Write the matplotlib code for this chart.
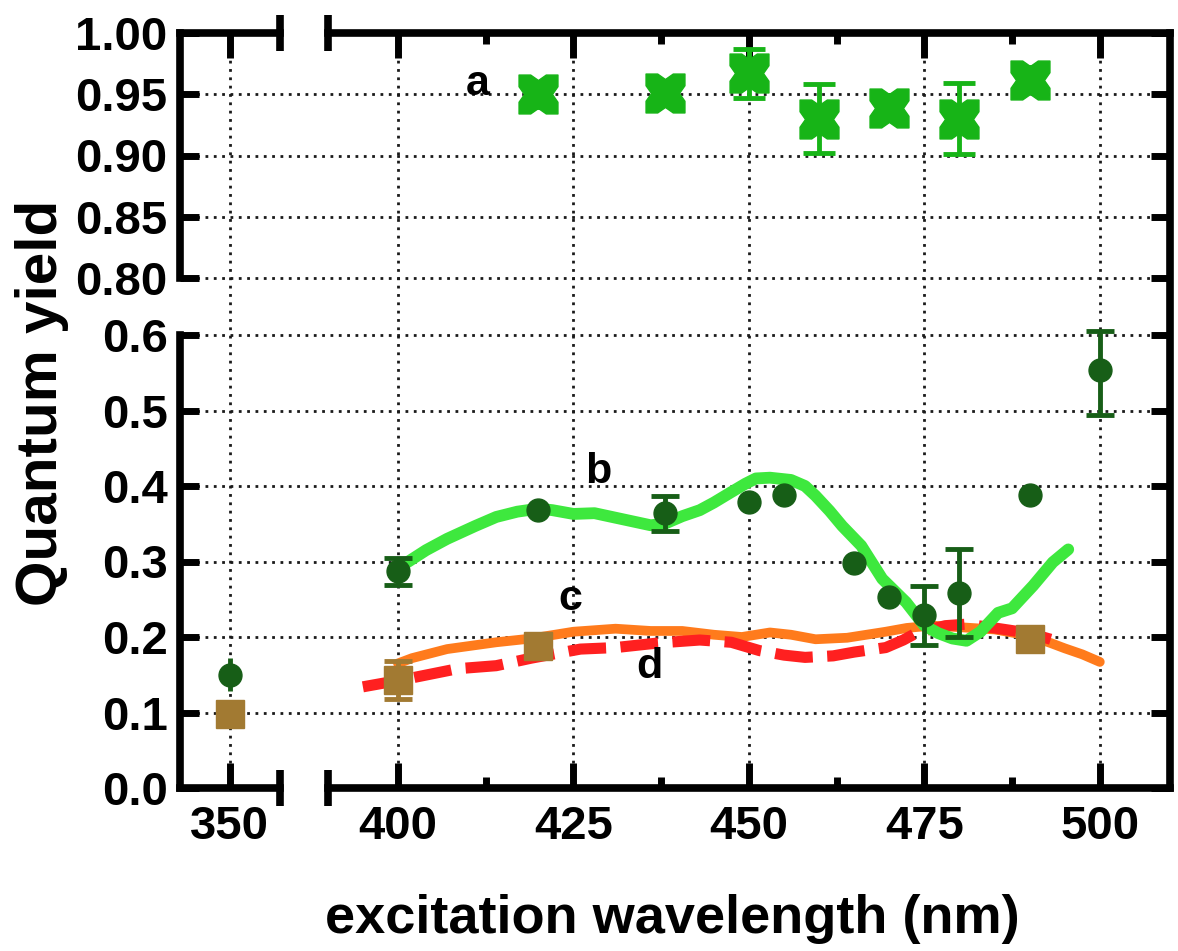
import numpy as np
import matplotlib
matplotlib.use('Agg')
import matplotlib.pyplot as plt
from matplotlib.path import Path

# series a: quantum yield near unity (top segment)
a_x = [420, 438, 450, 460, 470, 480, 490]
a_y = [0.950, 0.951, 0.967, 0.930, 0.939, 0.930, 0.962]
a_err = [0.01, 0.01, 0.02, 0.028, 0.01, 0.029, 0.01]

# series b: measured points and spectrum
b_x = [350, 400, 420, 438, 450, 455, 465, 470, 475, 480, 490, 500]
b_y = [0.150, 0.287, 0.368, 0.364, 0.379, 0.388, 0.298, 0.253, 0.229, 0.258, 0.388, 0.554]
b_err = [0.022, 0.018, 0, 0.023, 0, 0, 0, 0, 0.039, 0.058, 0, 0.06]

b_line_x = [400, 401.5, 404, 407, 411, 414, 417, 420, 422, 425,
            428, 430, 433, 436, 438, 440.5, 443, 445, 447.5, 449.5,
            451, 453, 456, 458, 459.5, 461.5, 463.3, 466, 469, 472.4,
            475, 477, 479, 481, 483, 485.5, 487.5, 490.5, 493.3, 495.5]
b_line_y = [0.292, 0.300, 0.315, 0.330, 0.347, 0.359, 0.366, 0.370, 0.368, 0.363,
            0.364, 0.360, 0.354, 0.348, 0.350, 0.360, 0.368, 0.378, 0.392, 0.403,
            0.410, 0.411, 0.408, 0.400, 0.387, 0.367, 0.347, 0.321, 0.277, 0.246,
            0.215, 0.205, 0.198, 0.195, 0.207, 0.232, 0.238, 0.268, 0.299, 0.316]

# series c (solid) and d (dashed) spectra
c_x = [400, 402, 407, 414, 419, 425, 431, 436, 440.5, 445,
       449, 453, 456, 459.5, 464, 469.5, 472.5, 476, 480, 485,
       488, 490.5, 493, 495, 497.5, 500]
c_y = [0.165, 0.172, 0.184, 0.193, 0.198, 0.207, 0.211, 0.208, 0.208, 0.203,
       0.200, 0.206, 0.203, 0.197, 0.199, 0.207, 0.212, 0.215, 0.213, 0.210,
       0.205, 0.200, 0.192, 0.185, 0.177, 0.167]
d_x = [395, 401, 408.5, 414, 419, 426, 431, 437, 443, 447.5,
       451.5, 455, 458, 462, 465, 469.5, 472, 474, 478, 481,
       485, 490, 493]
d_y = [0.134, 0.144, 0.158, 0.162, 0.172, 0.184, 0.186, 0.192, 0.196, 0.193,
       0.182, 0.176, 0.173, 0.175, 0.180, 0.186, 0.196, 0.206, 0.215, 0.217,
       0.212, 0.205, 0.197]

# square markers (c/d measured points)
sq_x = [350, 400, 420, 490]
sq_y = [0.098, 0.143, 0.188, 0.197]
sq_err = [0, 0.025, 0, 0]

x_ticks = [350, 400, 425, 450, 475, 500]
x_minor = [412.5, 437.5, 462.5, 487.5]
y_ticks = [0.0, 0.1, 0.2, 0.3, 0.4, 0.5, 0.6, 0.80, 0.85, 0.90, 0.95, 1.00]
y_labels = ['0.0', '0.1', '0.2', '0.3', '0.4', '0.5', '0.6',
            '0.80', '0.85', '0.90', '0.95', '1.00']

# broken axes: data breakpoints -> screen length (px)
X_BRK = [342.9, 357.2, 390.0, 510.0]
X_PIX = [0.0, 100.4, 147.8, 990.0]
Y_BRK = [0.0, 0.6, 0.8, 1.0]
Y_PIX = [0.0, 453.0, 510.0, 755.0]


def piecewise(src, dst):
    src = np.asarray(src, float)
    dst = np.asarray(dst, float)

    def make(a, b):
        k0 = (b[1] - b[0]) / (a[1] - a[0])
        k1 = (b[-1] - b[-2]) / (a[-1] - a[-2])

        def f(v):
            v = np.asarray(v, float)
            out = np.interp(v, a, b)
            out = np.where(v < a[0], b[0] + (v - a[0]) * k0, out)
            out = np.where(v > a[-1], b[-1] + (v - a[-1]) * k1, out)
            return out
        return f
    return make(src, dst), make(dst, src)


plt.rcParams['font.family'] = ['Liberation Sans', 'DejaVu Sans']
plt.rcParams['font.weight'] = 'bold'

fig = plt.figure(figsize=(11.78, 9.51), dpi=100)
ax = fig.add_axes([180 / 1178, 163 / 951, 990 / 1178, 755 / 951])
ax.set_xscale('function', functions=piecewise(X_BRK, X_PIX))
ax.set_yscale('function', functions=piecewise(Y_BRK, Y_PIX))
ax.set_xlim(X_BRK[0], X_BRK[-1])
ax.set_ylim(0, 1.0)

# dotted grid
G = dict(color='#1a1a1a', lw=2, linestyle=(0, (1, 2)), zorder=0.5)
for y in y_ticks[1:-1]:
    ax.axhline(y, **G)
for x in x_ticks:
    ax.axvline(x, **G)

# frame with breaks
for s in ax.spines.values():
    s.set_visible(False)
K = dict(color='black', lw=5.5, solid_capstyle='projecting', clip_on=False, zorder=5)
yt = ax.get_yaxis_transform()
xt = ax.get_xaxis_transform()
ax.plot([0, 0], [0, 0.6], transform=yt, **K)
ax.plot([0, 0], [0.8, 1.0], transform=yt, **K)
ax.plot([1, 1], [0, 1], transform=ax.transAxes, **K)
for yy in (0, 1):
    ax.plot([X_BRK[0], X_BRK[1]], [yy, yy], transform=xt, **K)
    ax.plot([X_BRK[2], X_BRK[3]], [yy, yy], transform=xt, **K)
    for xb in (X_BRK[1], X_BRK[2]):
        ax.plot([xb, xb], [yy - 0.024, yy + 0.024], transform=xt,
                **dict(K, solid_capstyle='butt'))

# ticks
ax.set_xticks(x_ticks)
ax.set_xticks(x_minor, minor=True)
ax.set_yticks(y_ticks)
ax.set_yticklabels(y_labels)
ax.yaxis.set_minor_locator(matplotlib.ticker.NullLocator())
ax.tick_params(which='both', direction='in', top=True, right=True, width=5,
               labelsize=34)
ax.tick_params(axis='x', which='major', length=18, pad=12)
ax.tick_params(axis='x', which='minor', length=8)
ax.tick_params(axis='y', which='major', length=14, pad=9)

# spectra
ax.plot(c_x, c_y, color='#ff7b1c', lw=7, solid_capstyle='round', zorder=2)
ax.plot(d_x, d_y, color='#ff2020', lw=8, dashes=(3.4, 1.3), zorder=3)
ax.plot(b_line_x, b_line_y, color='#3ee83e', lw=8.5, solid_capstyle='round', zorder=4)

# series a with bowtie markers
bowtie = Path([(-1, -1), (-0.4, -1), (0, -0.72), (0.4, -1), (1, -1), (1, -0.4),
               (0.72, 0), (1, 0.4), (1, 1), (0.4, 1), (0, 0.72), (-0.4, 1),
               (-1, 1), (-1, 0.4), (-0.72, 0), (-1, -0.4), (-1, -1)], closed=True)
green = '#17b417'
ax.errorbar(a_x, a_y, yerr=a_err, fmt='none', ecolor=green, elinewidth=3.5,
            capsize=11.5, capthick=3.5, zorder=6)
ax.plot(a_x, a_y, ls='none', marker=bowtie, ms=28, color=green, zorder=7)

# series b points; the 350 nm bar has no visible cap
dark = '#175e17'
bx, by, be = np.array(b_x), np.array(b_y), np.array(b_err)
m = (be > 0) & (bx > 360)
ax.errorbar(bx[m], by[m], yerr=be[m], fmt='none', ecolor=dark, elinewidth=3.5,
            capsize=10, capthick=3.5, zorder=6)
m = (be > 0) & (bx < 360)
ax.errorbar(bx[m], by[m], yerr=be[m], fmt='none', ecolor=dark, elinewidth=3.5,
            capsize=0, zorder=6)
ax.plot(b_x, b_y, ls='none', marker='o', ms=16.5, color=dark, zorder=7)

# squares
brown = '#a27a32'
sx, sy, se = np.array(sq_x), np.array(sq_y), np.array(sq_err)
m = se > 0
ax.errorbar(sx[m], sy[m], yerr=se[m], fmt='none', ecolor=brown, elinewidth=3.5,
            capsize=10, capthick=3.5, zorder=6)
ax.plot(sq_x, sq_y, ls='none', marker='s', ms=20, color=brown, zorder=8)

# curve letters
T = dict(ha='center', va='baseline', fontsize=31, fontweight='bold', zorder=8)
ax.text(411.4, 0.949, 'a', **T)
ax.text(428.6, 0.404, 'b', **T)
ax.text(424.6, 0.236, 'c', **T)
ax.text(435.8, 0.146, 'd', **T)

ax.set_xlabel('excitation wavelength (nm)', fontsize=39, fontweight='bold')
ax.xaxis.set_label_coords(0.497, -0.192)
ax.xaxis.label.set_va('baseline')
ax.set_ylabel('Quantum yield', fontsize=42, fontweight='bold')
ax.yaxis.set_label_coords(-0.124, 0.51)
ax.yaxis.label.set_va('baseline')

fig.savefig('out.png', dpi=100)
